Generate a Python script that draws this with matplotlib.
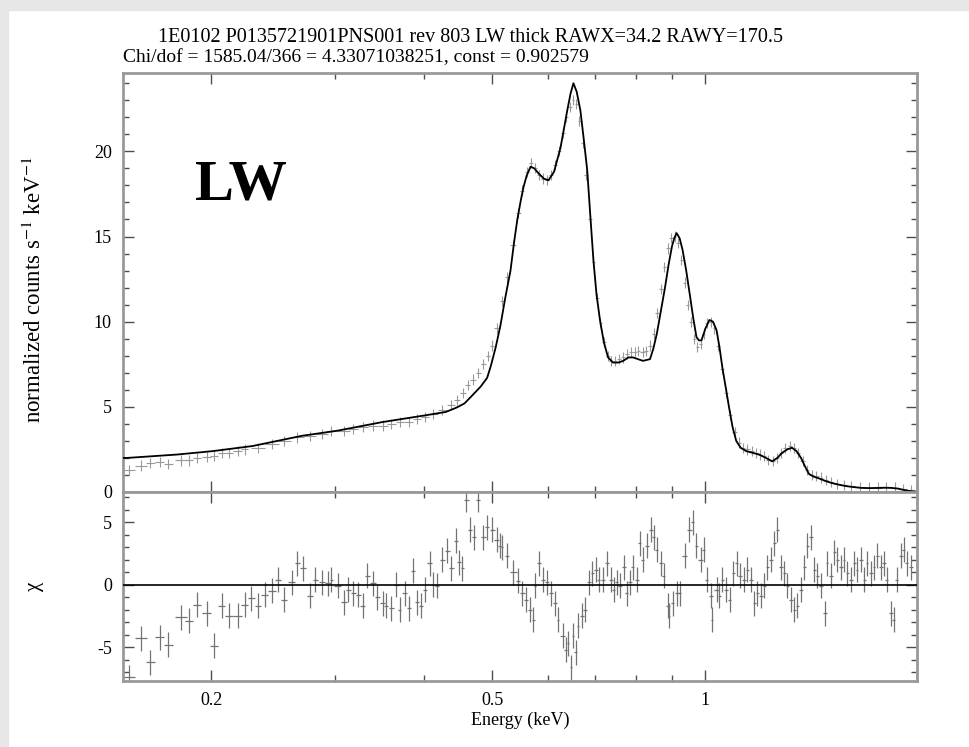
import matplotlib
matplotlib.use("Agg")
import matplotlib.pyplot as plt
import numpy as np
from matplotlib.ticker import FixedLocator, NullFormatter, FixedFormatter

plt.rcParams['font.family'] = ['Liberation Serif', 'DejaVu Serif']
plt.rcParams['mathtext.fontset'] = 'stix'
plt.rcParams['axes.unicode_minus'] = False

title_1 = "1E0102 P0135721901PNS001 rev 803 LW thick RAWX=34.2 RAWY=170.5"
title_2 = "Chi/dof = 1585.04/366 = 4.33071038251, const = 0.902579"

# model curve, keV vs normalized counts s^-1 keV^-1
model_e = [0.150, 0.152, 0.165, 0.179, 0.201, 0.229, 0.269, 0.302, 0.349, 0.402,
           0.430, 0.445, 0.457, 0.467, 0.482, 0.492, 0.498, 0.506, 0.514, 0.522,
           0.531, 0.537, 0.543, 0.549, 0.554, 0.560, 0.567, 0.574, 0.582, 0.592,
           0.601, 0.612, 0.625, 0.632, 0.639, 0.646, 0.652, 0.659, 0.667, 0.674,
           0.682, 0.689, 0.696, 0.703, 0.711, 0.720, 0.730, 0.742, 0.755, 0.767,
           0.780, 0.792, 0.805, 0.818, 0.837, 0.846, 0.856, 0.867, 0.879, 0.889,
           0.899, 0.906, 0.913, 0.922, 0.931, 0.942, 0.953, 0.964, 0.974, 0.982,
           0.990, 1.003, 1.016, 1.028, 1.040, 1.050, 1.060, 1.072, 1.084, 1.096,
           1.109, 1.125, 1.146, 1.170, 1.195, 1.222, 1.247, 1.268, 1.288, 1.310,
           1.330, 1.350, 1.370, 1.388, 1.406, 1.428, 1.452, 1.483, 1.514, 1.550,
           1.585, 1.625, 1.669, 1.715, 1.764, 1.800, 1.840, 1.880, 1.925, 1.960,
           1.989]
model_v = [2.0, 2.0, 2.1, 2.2, 2.4, 2.7, 3.3, 3.6, 4.1, 4.5,
           4.7, 4.95, 5.2, 5.6, 6.2, 6.7, 7.4, 8.5, 9.8, 11.4,
           13.0, 14.6, 16.0, 17.1, 17.9, 18.6, 19.1, 19.0, 18.7, 18.4,
           18.3, 18.8, 20.2, 21.3, 22.4, 23.4, 24.0, 23.5, 22.4, 20.8,
           18.9, 16.2, 13.6, 11.6, 10.1, 8.8, 7.9, 7.6, 7.6, 7.7,
           7.9, 7.9, 7.8, 7.7, 7.8, 8.4, 9.3, 10.6, 12.0, 13.3,
           14.4, 14.9, 15.2, 14.9, 14.2, 13.0, 11.6, 10.2, 9.1, 8.9,
           8.9, 9.6, 10.1, 10.0, 9.5, 8.5, 7.3, 6.1, 4.9, 3.8,
           3.0, 2.6, 2.4, 2.3, 2.2, 2.0, 1.8, 2.0, 2.3, 2.5,
           2.6, 2.4, 2.0, 1.5, 1.06, 0.9, 0.8, 0.65, 0.53, 0.43,
           0.35, 0.29, 0.24, 0.23, 0.24, 0.25, 0.24, 0.2, 0.1, 0.05,
           0.02]

# observed spectrum
data_e = [0.153, 0.159, 0.164, 0.169, 0.174, 0.181, 0.186, 0.191, 0.197, 0.202,
          0.207, 0.212, 0.218, 0.223, 0.233, 0.244, 0.254, 0.265, 0.276, 0.287,
          0.296, 0.308, 0.318, 0.328, 0.339, 0.350, 0.360, 0.370, 0.381, 0.391,
          0.402, 0.413, 0.425, 0.437, 0.446, 0.455, 0.462, 0.470, 0.478, 0.486,
          0.493, 0.500, 0.508, 0.517, 0.525, 0.535, 0.545, 0.552, 0.560, 0.567,
          0.575, 0.583, 0.591, 0.598, 0.606, 0.614, 0.622, 0.630, 0.637, 0.645,
          0.651, 0.658, 0.665, 0.672, 0.680, 0.688, 0.696, 0.704, 0.712, 0.720,
          0.729, 0.737, 0.746, 0.756, 0.766, 0.776, 0.786, 0.796, 0.806, 0.817,
          0.827, 0.837, 0.847, 0.857, 0.867, 0.877, 0.887, 0.897, 0.907, 0.917,
          0.927, 0.937, 0.947, 0.957, 0.967, 0.977, 0.987, 0.997, 1.007, 1.020,
          1.033, 1.046, 1.060, 1.074, 1.088, 1.103, 1.118, 1.134, 1.150, 1.166,
          1.182, 1.198, 1.215, 1.232, 1.249, 1.266, 1.284, 1.302, 1.320, 1.339,
          1.358, 1.377, 1.397, 1.418, 1.440, 1.462, 1.485, 1.510, 1.540, 1.575,
          1.615, 1.660, 1.710, 1.760, 1.810, 1.860, 1.910, 1.960]
data_v = [1.3, 1.55, 1.7, 1.75, 1.65, 1.85, 1.85, 2.0, 2.05, 2.1,
          2.3, 2.3, 2.4, 2.5, 2.6, 2.8, 3.0, 3.2, 3.3, 3.4,
          3.6, 3.6, 3.7, 3.8, 3.9, 3.9, 4.0, 4.1, 4.1, 4.3,
          4.4, 4.6, 4.8, 5.1, 5.4, 5.8, 6.3, 6.6, 7.0, 7.5,
          8.0, 8.6, 9.6, 11.2, 12.6, 14.5, 16.4, 17.7, 18.8, 19.3,
          19.0, 18.6, 18.4, 18.3, 18.6, 19.2, 20.0, 21.1, 22.0, 22.6,
          23.0, 22.8, 21.8, 20.5, 18.6, 16.0, 13.5, 11.4, 9.9, 8.8,
          8.0, 7.7, 7.7, 7.8, 7.9, 8.1, 8.2, 8.2, 8.3, 8.2,
          8.3, 8.6, 9.3, 10.5, 11.9, 13.2, 14.3, 14.9, 15.0, 14.6,
          13.6, 12.3, 11.0, 10.0, 9.0, 8.5, 8.7, 9.3, 9.9, 10.0,
          9.6, 8.6, 7.2, 5.8, 4.5, 3.5, 2.9, 2.6, 2.5, 2.4,
          2.3, 2.2, 2.1, 1.9, 1.8, 2.0, 2.3, 2.6, 2.7, 2.6,
          2.3, 1.8, 1.3, 1.0, 0.95, 0.85, 0.72, 0.58, 0.48, 0.40,
          0.33, 0.28, 0.26, 0.26, 0.27, 0.26, 0.18, 0.10]

# residuals (delta chi)
res_e = [0.153, 0.159, 0.164, 0.169, 0.174, 0.181, 0.186, 0.191, 0.197, 0.202,
         0.207, 0.212, 0.218, 0.223, 0.228, 0.233, 0.238, 0.244, 0.249, 0.254,
         0.260, 0.265, 0.270, 0.276, 0.281, 0.287, 0.293, 0.296, 0.302, 0.308,
         0.313, 0.318, 0.323, 0.328, 0.333, 0.339, 0.344, 0.350, 0.354, 0.360,
         0.366, 0.370, 0.376, 0.381, 0.386, 0.391, 0.396, 0.402, 0.408, 0.413,
         0.418, 0.425, 0.432, 0.438, 0.444, 0.449, 0.454, 0.460, 0.466, 0.472,
         0.478, 0.486, 0.492, 0.500, 0.508, 0.513, 0.517, 0.525, 0.536, 0.544,
         0.552, 0.559, 0.566, 0.572, 0.575, 0.583, 0.590, 0.598, 0.606, 0.614,
         0.620, 0.630, 0.636, 0.641, 0.647, 0.651, 0.657, 0.662, 0.670, 0.677,
         0.686, 0.693, 0.702, 0.708, 0.718, 0.727, 0.737, 0.744, 0.751, 0.759,
         0.769, 0.776, 0.784, 0.791, 0.802, 0.810, 0.818, 0.828, 0.839, 0.847,
         0.855, 0.867, 0.875, 0.887, 0.892, 0.901, 0.913, 0.922, 0.937, 0.952,
         0.962, 0.974, 0.987, 0.997, 1.007, 1.020, 1.026, 1.040, 1.050, 1.060,
         1.074, 1.085, 1.099, 1.110, 1.124, 1.139, 1.150, 1.165, 1.177, 1.188,
         1.204, 1.215, 1.227, 1.243, 1.256, 1.268, 1.285, 1.297, 1.310, 1.327,
         1.340, 1.353, 1.371, 1.384, 1.398, 1.416, 1.430, 1.444, 1.463, 1.482,
         1.492, 1.511, 1.526, 1.541, 1.561, 1.576, 1.592, 1.613, 1.629, 1.644,
         1.666, 1.683, 1.699, 1.722, 1.738, 1.756, 1.778, 1.796, 1.813, 1.837,
         1.855, 1.873, 1.897, 1.916, 1.934, 1.960]
res_chi = [-7.4, -4.3, -6.2, -4.2, -4.8, -2.6, -2.9, -1.6, -2.3, -4.9,
           -1.7, -2.5, -2.5, -1.6, -1.1, -1.7, -0.8, -0.5, 0.4, -1.2,
           0.2, 1.7, 1.3, -0.9, 0.4, 0.2, 0.1, 0.4, -0.1, -1.4,
           -0.4, -0.7, -0.8, -1.7, 0.7, 0.1, -1.0, -1.5, -1.7, -1.9,
           0.0, -2.0, -0.7, -1.9, 1.1, -1.4, -1.7, -0.4, 1.7, 0.0,
           -0.1, 2.0, 2.7, 1.3, 3.5, 1.8, 1.3, 6.8, 4.4, 3.8,
           6.8, 3.8, 4.6, 4.4, 3.6, 3.1, 3.0, 2.3, 1.0, 0.3,
           -0.7, -1.2, -2.0, -2.8, -0.1, 1.7, 0.4, 0.2, -0.7, -1.5,
           -2.8, -4.1, -5.2, -4.7, -6.6, -4.1, -5.4, -3.3, -2.5, -2.0,
           0.2, 0.9, 1.2, 0.4, 0.4, 1.7, 0.4, -0.4, 0.2, -0.1,
           1.4, -0.7, 0.2, 1.4, 0.4, 3.3, 2.0, 3.1, 4.4, 3.8,
           2.8, 1.7, 0.7, -1.7, -2.5, -1.5, -0.7, -0.7, 2.3, 4.4,
           5.0, 3.1, 2.0, 2.8, 0.4, -0.9, -2.8, -0.4, -0.9, 0.4,
           -0.4, -1.2, 0.9, 1.7, 0.7, 0.4, 1.2, 0.4, -1.5, -0.7,
           -0.9, -0.1, 1.4, 2.0, 3.3, 4.4, 1.4, 0.9, -0.1, -1.2,
           -2.0, -1.7, -0.4, 1.4, 3.1, 3.8, 1.2, 0.7, -0.1, -2.3,
           1.7, 0.7, 2.6, 2.0, 1.4, 2.0, 0.9, 0.4, 1.7, 1.2,
           2.0, 0.4, 1.7, 0.9, 1.4, 2.3, 1.4, 1.7, 0.4, -2.3,
           -2.8, 0.4, 2.3, 2.8, 1.7, 1.4]


def bin_halfwidths(e):
    # half widths of the energy bins, taken from the spacing of the points
    e = np.asarray(e)
    d = np.diff(np.log10(e))
    half = np.r_[d[0], d] / 2
    return [e - e * 10 ** (-half), e * 10 ** half - e]


fig = plt.figure(figsize=(9.69, 7.47), dpi=100)
fig.patches.append(plt.Rectangle((0, 1 - 10 / 747), 1, 10 / 747, transform=fig.transFigure,
                                 color='#e6e6e6', zorder=-5))
fig.patches.append(plt.Rectangle((0, 0), 8 / 969, 1, transform=fig.transFigure,
                                 color='#e6e6e6', zorder=-5))

left, width = 123 / 969, 794 / 969
ax1 = fig.add_axes([left, 1 - 492 / 747, width, 419 / 747])
ax2 = fig.add_axes([left, 1 - 681 / 747, width, 189 / 747], sharex=ax1)

frame_col = '0.6'
tick_col = '0.3'

ax1.errorbar(data_e, data_v, xerr=bin_halfwidths(data_e), yerr=0.3, fmt='none',
             ecolor='0.6', elinewidth=0.8, zorder=2)
ax1.plot(model_e, model_v, color='black', lw=1.3, zorder=3)

ax2.errorbar(res_e, res_chi, xerr=bin_halfwidths(res_e), yerr=1.0, fmt='none',
             ecolor='0.45', elinewidth=0.9, zorder=2)
ax2.axhline(0, color='black', lw=1.2, zorder=3)

ax1.set_xscale('log')
ax1.set_xlim(0.15, 2.0)
ax1.set_ylim(0, 24.6)
ax2.set_ylim(-7.7, 7.4)

for ax in (ax1, ax2):
    ax.xaxis.set_major_locator(FixedLocator([0.2, 0.5, 1, 2]))
    ax.xaxis.set_minor_locator(FixedLocator([0.3, 0.4, 0.6, 0.7, 0.8, 0.9]))
    ax.xaxis.set_minor_formatter(NullFormatter())
    ax.tick_params(which='both', direction='in', top=True, right=True,
                   color=tick_col, width=1, labelsize=13, pad=8)
    ax.tick_params(which='major', length=8)
    ax.tick_params(which='minor', length=4)
    for s in ax.spines.values():
        s.set_color(frame_col)
        s.set_linewidth(2)

ax1.yaxis.set_major_locator(FixedLocator([0, 5, 10, 15, 20]))
ax1.yaxis.set_minor_locator(FixedLocator(range(0, 25)))
ax2.yaxis.set_major_locator(FixedLocator([-5, 0, 5]))
ax2.yaxis.set_minor_locator(FixedLocator(range(-7, 8)))
ax1.tick_params(axis='x', labelbottom=False)
ax2.xaxis.set_major_formatter(FixedFormatter(['0.2', '0.5', '1', '']))

ax1.set_ylabel('normalized counts s$^{-1}$ keV$^{-1}$', fontsize=16.5)
ax2.set_ylabel('χ', fontsize=15)
ax1.yaxis.set_label_coords(-0.097, 0.482)
ax2.yaxis.set_label_coords(-0.1, 0.5)
ax2.set_xlabel('Energy (keV)', fontsize=13, labelpad=2)

fig.text(470 / 969, 1 - 37 / 747, title_1, ha='center', va='center', fontsize=14.5)
fig.text(123 / 969, 1 - 58 / 747, title_2, ha='left', va='center', fontsize=14)
fig.text(195 / 969, 1 - 200 / 747, 'LW', ha='left', va='baseline', fontsize=42,
         fontweight='bold')

fig.savefig('out.png', dpi=100)
